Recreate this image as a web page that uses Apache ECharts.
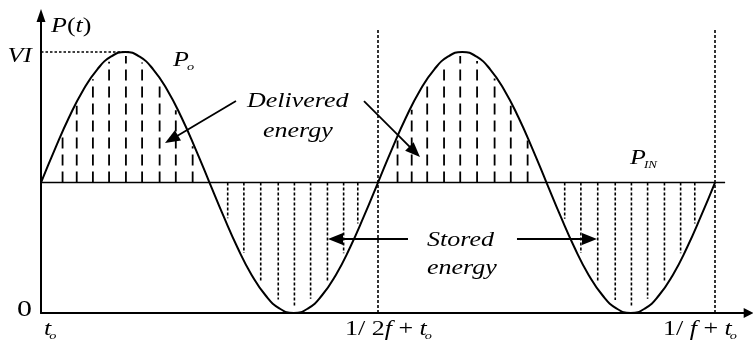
<!DOCTYPE html>
<html>
<head>
<meta charset="utf-8">
<script src="https://cdn.jsdelivr.net/npm/echarts@6.0.0/dist/echarts.min.js"></script>
<style>
  html, body { margin: 0; padding: 0; background: #fff; }
  #chart { width: 753px; height: 341px; }
</style>
</head>
<body>
<div id="chart"></div>
<script>
// Instantaneous power P(t) over one period 1/f, in units of VI.
// Time is in units of 1/f, starting at t_o.
const curveStep = 1 / 48;
const powerCurve = [
  0.5, 0.629, 0.75, 0.854, 0.933, 0.983, 1, 0.983, 0.933, 0.854, 0.75, 0.629,
  0.5, 0.371, 0.25, 0.146, 0.067, 0.017, 0, 0.017, 0.067, 0.146, 0.25, 0.371,
  0.5, 0.629, 0.75, 0.854, 0.933, 0.983, 1, 0.983, 0.933, 0.854, 0.75, 0.629,
  0.5, 0.371, 0.25, 0.146, 0.067, 0.017, 0, 0.017, 0.067, 0.146, 0.25, 0.371,
  0.5
];
const inputPower = 0.5;      // P_IN
const peakPower = 1;         // VI
const peakTime = 0.125;

// hatching: energy delivered (above P_IN) and stored (below P_IN)
const deliveredTimes = [0.032, 0.053, 0.077, 0.101, 0.126, 0.150, 0.176, 0.200, 0.225,
                        0.529, 0.550, 0.573, 0.598, 0.622, 0.647, 0.673, 0.697, 0.722];
const deliveredTops  = [0.682, 0.794, 0.896, 0.963, 0.985, 0.960, 0.887, 0.777, 0.639,
                        0.661, 0.779, 0.883, 0.956, 0.985, 0.966, 0.899, 0.794, 0.661];
const storedTimes    = [0.277, 0.301, 0.326, 0.352, 0.376, 0.400, 0.425, 0.449, 0.470,
                        0.777, 0.801, 0.826, 0.852, 0.876, 0.900, 0.925, 0.949, 0.970];
const storedBottoms  = [0.363, 0.230, 0.121, 0.052, 0.025, 0.055, 0.124, 0.229, 0.343,
                        0.361, 0.230, 0.121, 0.050, 0.025, 0.055, 0.124, 0.229, 0.343];

const markerTimes = [0.5, 1];
const xTickValues = [0, 0.5, 1];
const xTickLabels = ['t_o', '1/ 2f + t_o', '1/ f + t_o'];
const yTickValues = [0, 1];
const yTickLabels = ['0', 'VI'];

const X_MAX = 1.05, Y_MAX = 1.14;
const MARKER_TOP = 1.092;
const MIDLINE_END = 1.015;

const chart = echarts.init(document.getElementById('chart'), null, { renderer: 'canvas' });

function hatch(times, ends, dash, width) {
  return {
    type: 'custom', silent: true, animation: false, clip: false,
    data: times.map((t, i) => [t, ends[i]]),
    encode: { x: 0, y: 1 },
    renderItem: (params, api) => {
      const p0 = api.coord([api.value(0), inputPower]);
      const p1 = api.coord([api.value(0), api.value(1)]);
      return { type: 'line', shape: { x1: p0[0], y1: p0[1], x2: p1[0], y2: p1[1] },
               style: { stroke: '#000', lineWidth: width, lineDash: dash, fill: null } };
    }
  };
}

chart.setOption({
  animation: false,
  backgroundColor: '#fff',
  grid: { left: 41, right: 4.3, top: 15.5, bottom: 28 },
  xAxis: {
    type: 'value', min: 0, max: X_MAX,
    axisLine: { show: true, onZero: false, symbol: ['none', 'triangle'], symbolSize: [10, 10],
                lineStyle: { color: '#000', width: 2 } },
    axisTick: { show: false }, axisLabel: { show: false }, splitLine: { show: false }
  },
  yAxis: {
    type: 'value', min: 0, max: Y_MAX,
    axisLine: { show: true, onZero: false, symbol: ['none', 'triangle'], symbolSize: [9, 13],
                lineStyle: { color: '#000', width: 2 } },
    axisTick: { show: false }, axisLabel: { show: false }, splitLine: { show: false }
  },
  series: [
    { // P_IN level
      type: 'line', silent: true, symbol: 'none',
      data: [[0, inputPower], [MIDLINE_END, inputPower]],
      lineStyle: { color: '#000', width: 1.6 }
    },
    { // VI guide
      type: 'line', silent: true, symbol: 'none',
      data: [[0, peakPower], [peakTime + 0.007, peakPower]],
      lineStyle: { color: '#000', width: 1.4, type: [2.5, 2] }
    },
    { // half- and full-period markers
      type: 'custom', silent: true, clip: false,
      data: markerTimes.map(t => [t, MARKER_TOP]),
      encode: { x: 0, y: 1 },
      renderItem: (params, api) => {
        const p0 = api.coord([api.value(0), 0]);
        const p1 = api.coord([api.value(0), api.value(1)]);
        return { type: 'line', shape: { x1: p0[0], y1: p0[1], x2: p1[0], y2: p1[1] },
                 style: { stroke: '#000', lineWidth: 1.6, lineDash: [3, 2] } };
      }
    },
    hatch(deliveredTimes, deliveredTops, [11, 6], 1.8),
    hatch(storedTimes, storedBottoms, [3, 2], 1.6),
    { // P(t)
      type: 'line', silent: true, symbol: 'none', smooth: true,
      data: powerCurve.map((v, i) => [i * curveStep, v]),
      lineStyle: { color: '#000', width: 2 }
    }
  ]
});

// ---- text and arrows ----
const SX = 1.3;
const FAMILY = '"Liberation Serif", "Times New Roman", serif';
const measureCtx = document.createElement('canvas').getContext('2d');
const fontOf = (size, italic) => (italic ? 'italic ' : '') + size + 'px ' + FAMILY;

function runsOf(str) {
  const runs = [];
  for (const ch of str) {
    const it = /[A-Za-z]/.test(ch);
    if (runs.length && runs[runs.length - 1].it === it) runs[runs.length - 1].s += ch;
    else runs.push({ s: ch, it });
  }
  return runs;
}
function textEl(s, x, baseline, size, italic) {
  return {
    type: 'text', x, y: baseline - 0.3375 * size, scaleX: SX, silent: true,
    style: { text: s, font: fontOf(size, italic), fill: '#000',
             textAlign: 'left', align: 'left', textVerticalAlign: 'middle', verticalAlign: 'middle' }
  };
}
function widthOf(str, size) {
  let w = 0;
  for (const r of runsOf(str)) { measureCtx.font = fontOf(size, r.it); w += measureCtx.measureText(r.s).width * SX; }
  return w;
}
function label(str, x, baseline, size, subSize, els) {
  const parts = str.split('_');
  let cx = x;
  for (const r of runsOf(parts[0])) {
    els.push(textEl(r.s, cx, baseline, size, r.it));
    measureCtx.font = fontOf(size, r.it);
    cx += measureCtx.measureText(r.s).width * SX;
  }
  if (parts[1]) els.push(textEl(parts[1], cx - 2, baseline + 4, subSize, true));
}
function arrow(from, to, els) {
  const a = chart.convertToPixel({ gridIndex: 0 }, from);
  const b = chart.convertToPixel({ gridIndex: 0 }, to);
  const dx = b[0] - a[0], dy = b[1] - a[1], len = Math.hypot(dx, dy);
  const ux = dx / len, uy = dy / len, L = 15, W = 6;
  const bx = b[0] - ux * L, by = b[1] - uy * L;
  els.push({ type: 'line', silent: true,
             shape: { x1: a[0], y1: a[1], x2: bx + ux * 2, y2: by + uy * 2 },
             style: { stroke: '#000', lineWidth: 1.8 } });
  els.push({ type: 'polygon', silent: true,
             shape: { points: [[b[0], b[1]], [bx - uy * W, by + ux * W], [bx + uy * W, by - ux * W]] },
             style: { fill: '#000' } });
}

const els = [];
// x tick labels
const xLabelShift = [3, -33, -52];
xTickValues.forEach((v, i) => {
  const p = chart.convertToPixel({ gridIndex: 0 }, [v, 0]);
  label(xTickLabels[i], p[0] + xLabelShift[i], p[1] + 23, 20, 11, els);
});
// y tick labels (right edge just left of the axis)
const yLabelSize = [23, 20];
const yLabelBase = [5, 11];
yTickValues.forEach((v, i) => {
  const p = chart.convertToPixel({ gridIndex: 0 }, [0, v]);
  const w = widthOf(yTickLabels[i], yLabelSize[i]);
  label(yTickLabels[i], p[0] - 9 - w, p[1] + yLabelBase[i], yLabelSize[i], 11, els);
});
// annotations
label('P(t)', 51, 33, 20, 11, els);
label('P_o', 173, 67, 20, 11, els);
label('P_IN', 630, 165, 20, 10, els);
label('Delivered', 247, 108, 20, 11, els);
label('energy', 263, 138, 20, 11, els);
label('Stored', 427, 247, 20, 11, els);
label('energy', 427, 275, 20, 11, els);

arrow([0.2893, 0.8123], [0.1840, 0.6513], els);
arrow([0.4792, 0.8123], [0.5623, 0.5977], els);
arrow([0.5445, 0.2835], [0.4258, 0.2835], els);
arrow([0.7062, 0.2835], [0.8249, 0.2835], els);

chart.setOption({ graphic: { elements: els } });
</script>
</body>
</html>
